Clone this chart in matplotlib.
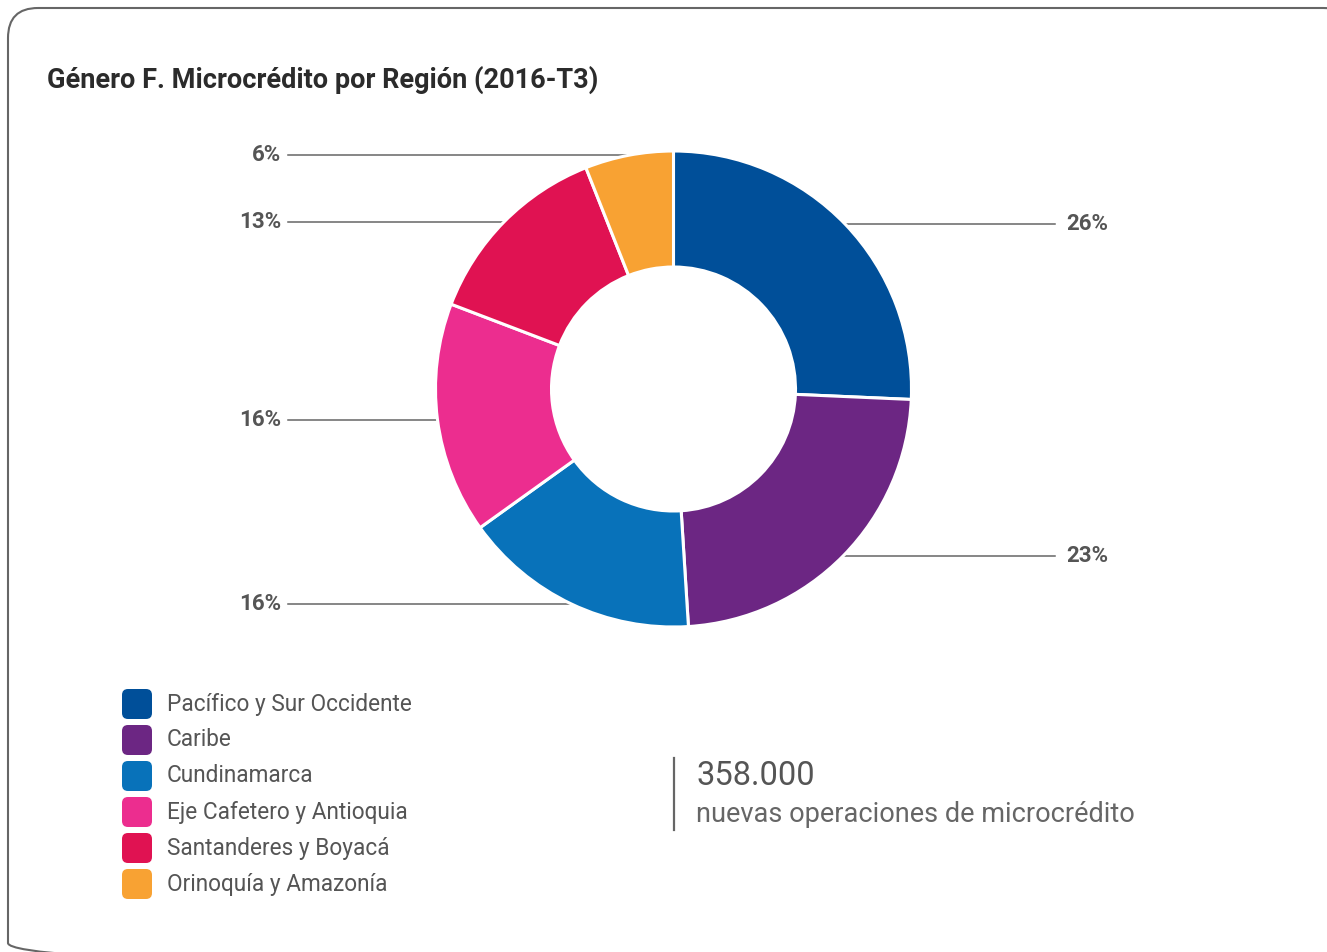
import matplotlib
matplotlib.use("Agg")
import matplotlib.pyplot as plt
import numpy as np
from matplotlib.patches import FancyBboxPatch

plt.rcParams['font.family'] = ['Roboto', 'DejaVu Sans']

# data
regions = ["Pacífico y Sur Occidente", "Caribe", "Cundinamarca",
           "Eje Cafetero y Antioquia", "Santanderes y Boyacá", "Orinoquía y Amazonía"]
shares = [25.7, 23.3, 16.1, 15.7, 13.2, 6.0]
colors = ["#004F99", "#6C2683", "#0872BA", "#EC2D8F", "#E01252", "#F8A233"]
title = "Género F. Microcrédito por Región (2016-T3)"
total_ops = "358.000"
total_txt = "nuevas operaciones de microcrédito"

W, H = 1327, 952
fig = plt.figure(figsize=(W / 100, H / 100), dpi=100)
ax = fig.add_axes([0, 0, 1, 1])

# pixel coords, y goes down
cx, cy, R, ring = 673.5, 389, 238, 116

# y is inverted, so counterclock in data = clockwise on screen
wedges, _ = ax.pie(shares, colors=colors, startangle=-90, counterclock=True,
                   center=(cx, cy), radius=R,
                   wedgeprops=dict(width=ring, edgecolor="white", linewidth=2.2))
for w in wedges:
    w.set_zorder(3)

ax.set_xlim(0, W)
ax.set_ylim(H, 0)
ax.set_aspect("equal")
ax.axis("off")

# leader lines + percent labels
total = sum(shares)
cum = 0
for val in shares:
    mid = np.radians((cum + val / 2) / total * 360)
    cum += val
    y = cy - R * np.cos(mid)
    dx = np.sqrt(max(R**2 - (y - cy)**2, 0)) - 10
    lab = f"{round(val / total * 100):.0f}%"
    if np.sin(mid) > 0:
        ax.plot([cx + dx, 1055], [y, y], color="#666666", lw=1.1, zorder=2)
        ax.text(1066, y, lab, ha="left", va="center", fontsize=16,
                fontweight="bold", color="#555555")
    else:
        ax.plot([288, cx - dx], [y, y], color="#666666", lw=1.1, zorder=2)
        ax.text(281, y, lab, ha="right", va="center", fontsize=16,
                fontweight="bold", color="#555555")

# title
ax.text(47, 80, title, ha="left", va="center", fontsize=19.5,
        fontweight="bold", color="#2b2b2b")

# legend
for i, (name, c) in enumerate(zip(regions, colors)):
    yc = 704 + 36 * i
    ax.add_patch(FancyBboxPatch((122, yc - 15), 30, 30,
                                boxstyle="round,pad=0,rounding_size=6",
                                facecolor=c, edgecolor="none"))
    ax.text(167, yc, name, ha="left", va="center", fontsize=16.3, color="#555555")

# total
ax.plot([674, 674], [758, 830], color="#666666", lw=1.6)
ax.text(696, 776, total_ops, ha="left", va="center", fontsize=23.5, color="#555555")
ax.text(696, 814, total_txt, ha="left", va="center", fontsize=19.5, color="#666666")

# frame
ax.add_patch(FancyBboxPatch((8, 8), 1345, 965,
                            boxstyle="round,pad=0,rounding_size=30",
                            facecolor="none", edgecolor="#666666", lw=1.5,
                            clip_on=False))

fig.savefig("out.png", dpi=100)
